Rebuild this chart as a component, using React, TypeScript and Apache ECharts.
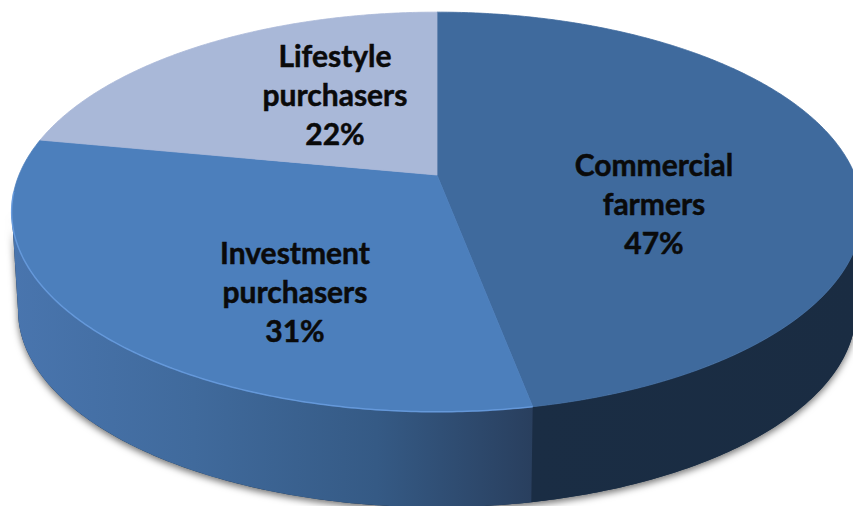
import React, { useEffect, useRef } from "react";
import * as echarts from "echarts";

const categories = ["Commercial\nfarmers", "Investment\npurchasers", "Lifestyle\npurchasers"];
const shares = [47, 31, 22];

const topColors = ["#3f6a9d", "#4c7fbc", "#a9b8d8"];
const W = 853, H = 506;
const CX = 437, CY = 175, A = 418, B = 193, K = 0.185;
const DEPTH = 99, BOTTOM_SCALE = 0.985;
const LABEL_ANCHORS = [[654, 203], [295, 291], [335, 94]];
const RIGHT_EXTREME = Math.acos(-K);
const LEFT_EXTREME = 2 * Math.PI - RIGHT_EXTREME;

const project = (theta: number, r = 1, s = 1, dy = 0): number[] => {
  const u = r * Math.sin(theta);
  const v = -r * Math.cos(theta);
  const w = 1 - K * v;
  return [CX + (A * s * u) / w, CY + dy + (B * s * v) / w];
};

const arcPoints = (from: number, to: number, s = 1, dy = 0): number[][] => {
  const n = Math.max(2, Math.ceil(Math.abs(to - from) / 0.01));
  const pts: number[][] = [];
  for (let i = 0; i <= n; i++) pts.push(project(from + ((to - from) * i) / n, 1, s, dy));
  return pts;
};

const sidePoints = (from: number, to: number): number[][] => [
  ...arcPoints(from, to),
  ...arcPoints(to, from, BOTTOM_SCALE, DEPTH),
];

const total = shares.reduce((a, b) => a + b, 0);
const startAngle = (index: number) =>
  (shares.slice(0, index).reduce((a, b) => a + b, 0) / total) * 2 * Math.PI;

const sideFills = [
  new echarts.graphic.LinearGradient(0, 0, 1, 0, [
    { offset: 0, color: "#1a2d44" },
    { offset: 1, color: "#1a2c42" },
  ]),
  new echarts.graphic.LinearGradient(0, 0, 1, 0, [
    { offset: 0, color: "#4975ae" },
    { offset: 0.35, color: "#406a9c" },
    { offset: 0.7, color: "#355a85" },
    { offset: 1, color: "#293f5e" },
  ]),
];

const renderSlice = (params: any, api: any) => {
  const i = params.dataIndex;
  const from = startAngle(i);
  const to = from + (api.value(1) / total) * 2 * Math.PI;
  const children: any[] = [];
  const sFrom = Math.max(from, RIGHT_EXTREME);
  const sTo = Math.min(to, LEFT_EXTREME);
  if (sTo > sFrom) {
    children.push({
      type: "polygon",
      shape: { points: sidePoints(sFrom, sTo) },
      style: { fill: sideFills[i] },
    });
  }
  children.push({
    type: "polygon",
    shape: { points: [project(0, 0), ...arcPoints(from, to)] },
    style: { fill: topColors[i], stroke: topColors[i], lineWidth: 0.8 },
  });
  if (i === 1) {
    children.push({
      type: "polyline",
      shape: { points: arcPoints(from, LEFT_EXTREME + 0.1) },
      style: { fill: "none", stroke: "#6a9fe2", lineWidth: 1.5, opacity: 0.8 },
    });
  }
  const [lx, ly] = LABEL_ANCHORS[i];
  children.push({
    type: "text",
    style: {
      text: `${categories[i]}\n${api.value(1)}%`,
      x: lx,
      y: ly,
      align: "center",
      verticalAlign: "middle",
      fontFamily: "Lato",
      fontWeight: "bold",
      fontSize: 30,
      lineHeight: 39,
      fill: "#0a0a0a",
      stroke: "#0a0a0a",
      lineWidth: 0.5,
    },
  });
  return { type: "group", children };
};

const renderBase = () => ({
  type: "polygon",
  shape: { points: sidePoints(RIGHT_EXTREME, LEFT_EXTREME) },
  style: {
    fill: "#1a2c42",
    shadowBlur: 7,
    shadowColor: "rgba(0,0,0,0.55)",
    shadowOffsetY: 3,
  },
});

export default function App() {
  const ref = useRef<HTMLDivElement>(null);
  useEffect(() => {
    const chart = echarts.init(ref.current!, undefined, { renderer: "svg" });
    chart.setOption({
      animation: false,
      backgroundColor: "#ffffff",
      series: [
        {
          type: "custom",
          coordinateSystem: "none",
          silent: true,
          data: [[0]],
          renderItem: renderBase,
        },
        {
          type: "custom",
          coordinateSystem: "none",
          silent: true,
          data: shares.map((v, i) => [i, v]),
          renderItem: renderSlice,
        },
      ],
    });
    return () => chart.dispose();
  }, []);
  return (
    <div
      ref={ref}
      style={{ position: "fixed", left: 0, top: 0, width: W, height: H }}
    />
  );
}
